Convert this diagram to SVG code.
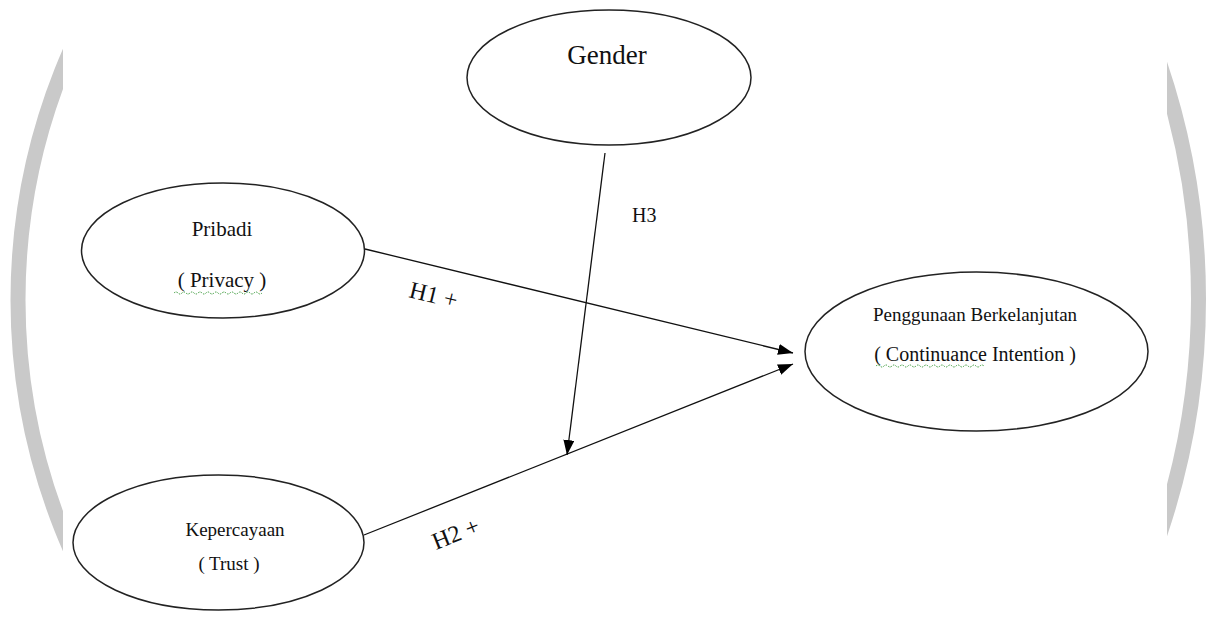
<svg xmlns="http://www.w3.org/2000/svg" width="1208" height="622" viewBox="0 0 1208 622">
<style>
.node ellipse{fill:#fff;stroke:#222;stroke-width:1.5}
text{font-family:"Liberation Serif","Times New Roman",serif;fill:#111}
.conn line{stroke:#111;stroke-width:1.3}
.arc{fill:none;stroke:#c9c9c9;stroke-width:15}
.sq{fill:none;stroke:#3a9a3a;stroke-width:1;stroke-dasharray:1.5 1.2}
</style>
<defs>
<marker id="ah" markerUnits="userSpaceOnUse" markerWidth="16" markerHeight="12" refX="15" refY="5.5" orient="auto"><path d="M0,0 L15,5.5 L0,11 z" fill="#000"/></marker>
<clipPath id="cl"><rect x="0" y="0" width="63" height="622"/></clipPath>
<clipPath id="cr"><rect x="1167" y="0" width="41" height="622"/></clipPath>
</defs>
<rect width="1208" height="622" fill="#fff"/>
<g id="decor">
<circle class="arc" cx="638" cy="300" r="620" clip-path="url(#cl)"/>
<circle class="arc" cx="466" cy="299" r="732.5" clip-path="url(#cr)"/>
</g>
<g id="connectors" class="conn">
<line x1="365" y1="249" x2="793" y2="353" marker-end="url(#ah)"/>
<line x1="364" y1="535" x2="793" y2="364" marker-end="url(#ah)"/>
<line x1="605" y1="153" x2="567" y2="455" marker-end="url(#ah)"/>
<text x="632" y="222" font-size="20">H3</text>
<text x="408" y="297" font-size="24" transform="rotate(13.7 408 297)">H1 +</text>
<text x="436" y="550" font-size="24" transform="rotate(-21.7 436 550)">H2 +</text>
</g>
<g id="gender" class="node">
<ellipse cx="609" cy="77.5" rx="142" ry="67.5"/>
<text x="607" y="64" font-size="27" text-anchor="middle">Gender</text>
</g>
<g id="pribadi" class="node">
<ellipse cx="223" cy="250.5" rx="141.5" ry="67.5"/>
<text x="222" y="236" font-size="21" text-anchor="middle">Pribadi</text>
<text x="222" y="287" font-size="21" text-anchor="middle">( Privacy )</text>
<path class="sq" d="M174,293 q2,-2 4,0 t4,0 t4,0 t4,0 t4,0 t4,0 t4,0 t4,0 t4,0 t4,0 t4,0 t4,0 t4,0 t4,0 t4,0 t4,0 t4,0 t4,0 t4,0 t4,0 t4,0 t4,0"/>
</g>
<g id="kepercayaan" class="node">
<ellipse cx="218.5" cy="542.5" rx="145.5" ry="67.5"/>
<text x="235" y="536" font-size="19" text-anchor="middle">Kepercayaan</text>
<text x="229" y="570" font-size="19" text-anchor="middle">( Trust )</text>
</g>
<g id="continuance" class="node">
<ellipse cx="976.5" cy="351.5" rx="171.5" ry="79.5"/>
<text x="975" y="321" font-size="19" text-anchor="middle">Penggunaan Berkelanjutan</text>
<text x="975" y="361" font-size="20" text-anchor="middle">( Continuance Intention )</text>
<path class="sq" d="M876,366 q2,-2 4,0 t4,0 t4,0 t4,0 t4,0 t4,0 t4,0 t4,0 t4,0 t4,0 t4,0 t4,0 t4,0 t4,0 t4,0 t4,0 t4,0 t4,0 t4,0 t4,0 t4,0 t4,0 t4,0 t4,0 t4,0 t4,0 t4,0"/>
</g>
</svg>
